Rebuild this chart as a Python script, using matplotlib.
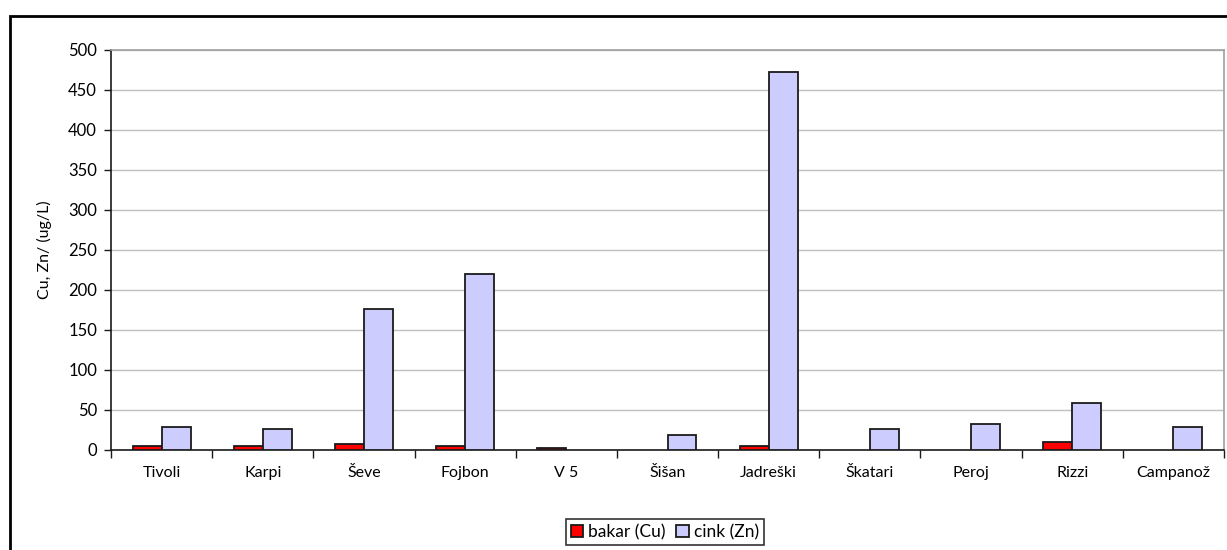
import matplotlib
matplotlib.use("Agg")
import matplotlib.pyplot as plt
import numpy as np
from matplotlib.patches import Rectangle

categories = ["Tivoli", "Karpi", "Ševe", "Fojbon", "V 5", "Šišan", "Jadreški",
              "Škatari", "Peroj", "Rizzi", "Campanož"]
cu_values = [5, 5, 7, 5, 2, 0, 4, 0, 0, 9, 0]
zn_values = [28, 26, 176, 220, 0, 18, 472, 26, 32, 58, 28]
series_names = ["bakar (Cu)", "cink (Zn)"]
y_ticks = list(range(0, 501, 50))

plt.rcParams['font.family'] = ['Lato', 'DejaVu Sans']

fig = plt.figure(figsize=(12.27, 5.5), dpi=100)
ax = fig.add_axes([111/1227, 1-449.5/550, (1224-111)/1227, (449.5-50)/550])

x = np.arange(len(categories))
w = 1/3.5
b1 = ax.bar(x - w/2, cu_values, width=w, color="#FF0000", edgecolor="#1a1a1a",
            linewidth=1.3, label=series_names[0], zorder=3)
b2 = ax.bar(x + w/2, zn_values, width=w, color="#CCCCFF", edgecolor="#1a1a1a",
            linewidth=1.3, label=series_names[1], zorder=3)
for bars, vals in ((b1, cu_values), (b2, zn_values)):
    for p, v in zip(bars, vals):
        if v == 0:
            p.set_visible(False)

ax.set_xlim(-0.5, len(categories) - 0.5)
ax.set_ylim(0, 500)
ax.set_yticks(y_ticks)
ax.set_yticklabels([str(v) for v in y_ticks], fontsize=12)
ax.yaxis.grid(True, color="#c0c0c0", linewidth=1, zorder=0)
ax.set_axisbelow(True)

ax.set_xticks(np.arange(-0.5, len(categories), 1))
ax.set_xticklabels([])
ax.set_xticks(x, minor=True)
ax.set_xticklabels(categories, minor=True, fontsize=11.5)
ax.tick_params(axis="x", which="minor", length=0, pad=12)
ax.tick_params(axis="x", which="major", length=6, width=1, direction="out", color="#1a1a1a")
ax.tick_params(axis="y", length=5, width=1, direction="out", color="#1a1a1a", pad=5)

for s in ["left", "bottom"]:
    ax.spines[s].set_color("#1a1a1a")
    ax.spines[s].set_linewidth(1.2)
for s in ["top", "right"]:
    ax.spines[s].set_color("#a0a0a0")
    ax.spines[s].set_linewidth(1.2)

fig.text(44/1227, 1-250/550, "Cu, Zn/ (ug/L)", rotation=90, ha="center", va="center",
         fontsize=11.5)

# outer chart border
fig.patches.append(Rectangle((10/1227, -0.1), 1.2, (1-16/550) + 0.1,
                             transform=fig.transFigure, fill=False,
                             edgecolor="black", linewidth=2))

leg = fig.legend(loc="center", bbox_to_anchor=(665/1227, 1-532/550), ncol=2,
                 fontsize=12.5, frameon=True, fancybox=False, edgecolor="black",
                 handlelength=0.7, handleheight=0.7, handletextpad=0.3,
                 columnspacing=0.6, borderpad=0.3)
leg.get_frame().set_linewidth(1.2)

fig.savefig("out.png", dpi=100)
